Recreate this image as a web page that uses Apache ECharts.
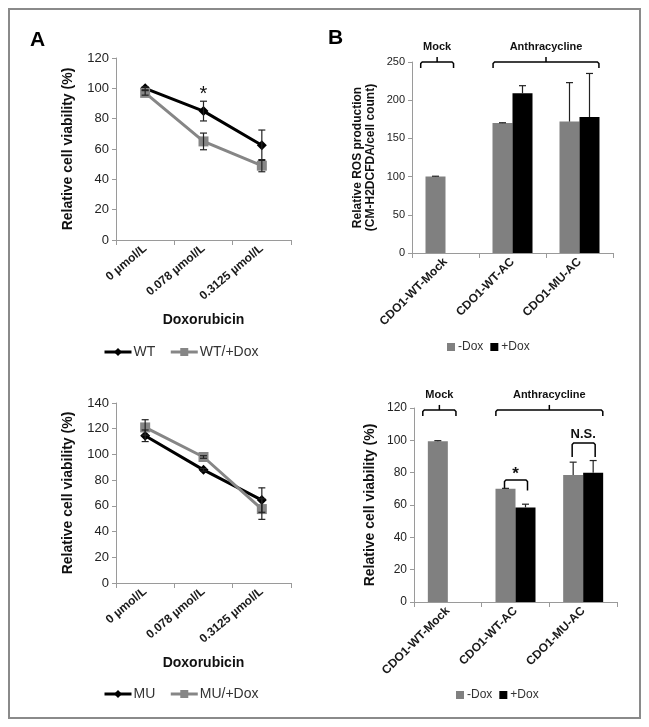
<!DOCTYPE html>
<html>
<head>
<meta charset="utf-8">
<script src="https://cdn.jsdelivr.net/npm/echarts@6/dist/echarts.min.js"></script>
<style>
html,body{margin:0;padding:0;background:#fff;}
#c{width:649px;height:727px;}
</style>
</head>
<body>
<div id="c"></div>
<script>
// ---- data ----
const doseCats = ['0 µmol/L', '0.078 µmol/L', '0.3125 µmol/L'];
const wtVals = [100, 85, 62.5];
const wtErr = [1, 6.5, 10];
const wtDoxVals = [97, 65, 49];
const wtDoxErr = [1.5, 5.5, 4];
const muVals = [114.5, 88, 64.5];
const muErr = [4.5, 1, 9.5];
const muDoxVals = [121, 98, 57.5];
const muDoxErr = [6, 1, 8];

const cdoCats = ['CDO1-WT-Mock', 'CDO1-WT-AC', 'CDO1-MU-AC'];
const rosMinus = [100, 170, 172];
const rosMinusErr = [0.5, 0.5, 51];
const rosPlus = [null, 209, 178];
const rosPlusErr = [null, 10, 57];
const viaMinus = [99.5, 70, 78.5];
const viaMinusErr = [0.3, 0.3, 8];
const viaPlus = [null, 58.5, 80];
const viaPlusErr = [null, 2, 7.5];

const groupLabels = ['Mock', 'Anthracycline'];
const groupSpans = [[0, 0], [1, 2]];
const sigLabels = ['*', 'N.S.'];
const sigCats = [1, 2];
const sigTop = [75.5, 98.3];
const sigEnd = [69, 89.7];
const starA = {cat: 1, value: 98, text: '*'};

// ---- helpers ----
const FONT = 'Liberation Sans, Arial, sans-serif';
const GRAY = '#868686';
const AXC = '#9a9a9a';

function errSeries(grid, vals, errs, offset, both) {
  const data = [];
  vals.forEach((v, i) => { if (v != null) data.push([i, v, errs[i]]); });
  return {
    type: 'custom', xAxisIndex: grid, yAxisIndex: grid, clip: false, z: 5,
    encode: {x: 0, y: 1}, silent: true,
    renderItem: function (params, api) {
      const x = api.value(0), v = api.value(1), e = api.value(2);
      const c = api.coord([x, v]);
      const t = api.coord([x, v + e]);
      const b = api.coord([x, v - e]);
      const cx = c[0] + offset;
      const cap = 3.5;
      const st = {stroke: '#222', lineWidth: 1.2};
      const ch = [
        {type: 'line', shape: {x1: cx, y1: t[1], x2: cx, y2: both ? b[1] : c[1]}, style: st},
        {type: 'line', shape: {x1: cx - cap, y1: t[1], x2: cx + cap, y2: t[1]}, style: st}
      ];
      if (both) ch.push({type: 'line', shape: {x1: cx - cap, y1: b[1], x2: cx + cap, y2: b[1]}, style: st});
      return {type: 'group', children: ch};
    },
    data: data
  };
}

function groupBracketSeries(grid, yVal) {
  return {
    type: 'custom', xAxisIndex: grid, yAxisIndex: grid, clip: false, silent: true,
    encode: {x: 0, y: 1},
    renderItem: function (params, api) {
      const i = params.dataIndex;
      const span = groupSpans[i];
      const band = api.size([1, 0])[0];
      const p0 = api.coord([span[0], yVal]);
      const p1 = api.coord([span[1], yVal]);
      let x1, x2;
      if (span[0] === span[1]) { x1 = p0[0] - 0.37 * band; x2 = p0[0] + 0.12 * band; }
      else { x1 = p0[0] - 0.29 * band; x2 = p1[0] + 0.29 * band; }
      const y = p0[1];
      const xc = (x1 + x2) / 2;
      const st = {stroke: '#000', lineWidth: 1.5, fill: null};
      return {type: 'group', children: [
        {type: 'polyline', shape: {points: [[x1, y + 6], [x1, y + 1.5], [x1 + 1.5, y], [x2 - 1.5, y], [x2, y + 1.5], [x2, y + 6]]}, style: st},
        {type: 'line', shape: {x1: xc, y1: y, x2: xc, y2: y - 5}, style: st},
        {type: 'text', style: {text: groupLabels[i], x: xc, y: y - 15, align: 'center', verticalAlign: 'middle',
          fontFamily: FONT, fontWeight: 'bold', fontSize: 11, fill: '#111'}}
      ]};
    },
    data: groupSpans.map(s => [s[0], yVal])
  };
}

function sigSeries(grid) {
  return {
    type: 'custom', xAxisIndex: grid, yAxisIndex: grid, clip: false, silent: true,
    encode: {x: 0, y: 1},
    renderItem: function (params, api) {
      const i = params.dataIndex;
      const c = api.coord([sigCats[i], sigTop[i]]);
      const e = api.coord([sigCats[i], sigEnd[i]]);
      const x1 = c[0] - 11, x2 = c[0] + 12, y = c[1];
      const st = {stroke: '#000', lineWidth: 1.5, fill: null};
      const isStar = sigLabels[i] === '*';
      return {type: 'group', children: [
        {type: 'polyline', shape: {points: [[x1, e[1]], [x1, y + 1.5], [x1 + 1.5, y], [x2 - 1.5, y], [x2, y + 1.5], [x2, e[1]]]}, style: st},
        {type: 'text', style: {text: sigLabels[i], x: c[0], y: y - (isStar ? 6 : 9), align: 'center', verticalAlign: 'middle',
          fontFamily: FONT, fontWeight: 'bold', fontSize: isStar ? 17 : 13, fill: '#111'}}
      ]};
    },
    data: sigCats.map((c, i) => [c, sigTop[i]])
  };
}

function starSeries(grid) {
  return {
    type: 'custom', xAxisIndex: grid, yAxisIndex: grid, clip: false, silent: true,
    encode: {x: 0, y: 1},
    renderItem: function (params, api) {
      const c = api.coord([starA.cat, starA.value]);
      return {type: 'text', style: {text: starA.text, x: c[0], y: c[1] + 3, align: 'center', verticalAlign: 'middle',
        fontFamily: FONT, fontSize: 20, fill: '#111'}};
    },
    data: [[starA.cat, starA.value]]
  };
}

function xAx(grid, cats, rotate, name) {
  return {
    type: 'category', gridIndex: grid, data: cats, boundaryGap: true,
    axisLine: {show: true, lineStyle: {color: AXC, width: 1}},
    axisTick: {show: true, length: 5, alignWithLabel: false, interval: 0, lineStyle: {color: AXC}},
    axisLabel: {rotate: rotate, interval: 0, fontFamily: FONT, fontWeight: 'bold', fontSize: 12, color: '#1a1a1a', margin: 7},
    name: name, nameLocation: 'middle', nameGap: 73,
    nameTextStyle: {fontFamily: FONT, fontWeight: 'bold', fontSize: 14, color: '#111'},
    splitLine: {show: false}
  };
}

function yAx(grid, max, interval, name, nameGap, fs, nameFs, lh) {
  return {
    type: 'value', gridIndex: grid, min: 0, max: max, interval: interval,
    axisLine: {show: true, lineStyle: {color: AXC, width: 1}},
    axisTick: {show: true, length: 4, lineStyle: {color: AXC}},
    axisLabel: {fontFamily: FONT, fontSize: fs, color: '#222', margin: 7},
    splitLine: {show: false},
    name: name, nameLocation: 'middle', nameGap: nameGap,
    nameTextStyle: {fontFamily: FONT, fontWeight: 'bold', fontSize: nameFs, color: '#111', lineHeight: lh}
  };
}

function lineSeries(grid, name, vals, color, symbol, size) {
  return {
    type: 'line', name: name, xAxisIndex: grid, yAxisIndex: grid, data: vals,
    lineStyle: {color: color, width: 3}, itemStyle: {color: color},
    symbol: symbol, symbolSize: size, showSymbol: true, z: 3
  };
}

function barSeries(grid, name, vals, color) {
  return {
    type: 'bar', name: name, xAxisIndex: grid, yAxisIndex: grid, data: vals,
    barWidth: 20, barGap: '0%', itemStyle: {color: color}
  };
}

const lineLegend = (left, top, names) => ({
  left: left, top: top, data: names, itemWidth: 27, itemHeight: 10, itemGap: 14,
  lineStyle: {width: 3},
  textStyle: {fontFamily: FONT, fontSize: 14, color: '#333', padding: [0, 0, 0, -3]}, selectedMode: false
});
const barLegend = (left, top) => ({
  left: left, top: top, data: ['-Dox', '+Dox'], itemWidth: 8, itemHeight: 8, itemGap: 7,
  icon: 'rect', textStyle: {fontFamily: FONT, fontSize: 12, color: '#333', padding: [0, 0, 0, -2]}, selectedMode: false
});

const option = {
  animation: false,
  backgroundColor: '#fff',
  grid: [
    {left: 116, top: 58, width: 175, height: 182, outerBoundsMode: 'none', containLabel: false},
    {left: 412, top: 62, width: 201, height: 191, outerBoundsMode: 'none', containLabel: false},
    {left: 116, top: 403, width: 175, height: 180, outerBoundsMode: 'none', containLabel: false},
    {left: 414, top: 408, width: 203, height: 194, outerBoundsMode: 'none', containLabel: false}
  ],
  xAxis: [
    xAx(0, doseCats, 40, 'Doxorubicin'),
    xAx(1, cdoCats, 45, ''),
    xAx(2, doseCats, 40, 'Doxorubicin'),
    xAx(3, cdoCats, 45, '')
  ],
  yAxis: [
    yAx(0, 120, 20, 'Relative cell viability (%)', 40, 13, 14, 16),
    yAx(1, 250, 50, 'Relative ROS production\n(CM-H2DCFDA/cell count)', 35, 11, 12, 13),
    yAx(2, 140, 20, 'Relative cell viability (%)', 40, 13, 14, 16),
    yAx(3, 120, 20, 'Relative cell viability (%)', 36, 12, 14, 16)
  ],
  legend: [
    lineLegend(98, 340, ['WT', 'WT/+Dox']),
    barLegend(442, 336),
    lineLegend(98, 682, ['MU', 'MU/+Dox']),
    barLegend(451, 684)
  ],
  graphic: [
    {type: 'rect', shape: {x: 9, y: 9, width: 631, height: 709}, style: {fill: null, stroke: '#8a8a8a', lineWidth: 2}, silent: true},
    {type: 'text', left: 30, top: 30, style: {text: 'A', fontFamily: FONT, fontWeight: 'bold', fontSize: 21, fill: '#000'}},
    {type: 'text', left: 328, top: 28, style: {text: 'B', fontFamily: FONT, fontWeight: 'bold', fontSize: 21, fill: '#000'}}
  ],
  series: [
    lineSeries(0, 'WT', wtVals, '#000', 'diamond', 10),
    lineSeries(0, 'WT/+Dox', wtDoxVals, GRAY, 'rect', 10),
    errSeries(0, wtVals, wtErr, 0, true),
    errSeries(0, wtDoxVals, wtDoxErr, 0, true),
    starSeries(0),

    barSeries(1, '-Dox', rosMinus, '#808080'),
    barSeries(1, '+Dox', rosPlus, '#000'),
    errSeries(1, rosMinus, rosMinusErr, -10, false),
    errSeries(1, rosPlus, rosPlusErr, 10, false),
    groupBracketSeries(1, 250),

    lineSeries(2, 'MU', muVals, '#000', 'diamond', 10),
    lineSeries(2, 'MU/+Dox', muDoxVals, GRAY, 'rect', 10),
    errSeries(2, muVals, muErr, 0, true),
    errSeries(2, muDoxVals, muDoxErr, 0, true),

    barSeries(3, '-Dox', viaMinus, '#808080'),
    barSeries(3, '+Dox', viaPlus, '#000'),
    errSeries(3, viaMinus, viaMinusErr, -10, false),
    errSeries(3, viaPlus, viaPlusErr, 10, false),
    groupBracketSeries(3, 118.8),
    sigSeries(3)
  ]
};

const chart = echarts.init(document.getElementById('c'), null, {renderer: 'canvas'});
chart.setOption(option);
</script>
</body>
</html>
